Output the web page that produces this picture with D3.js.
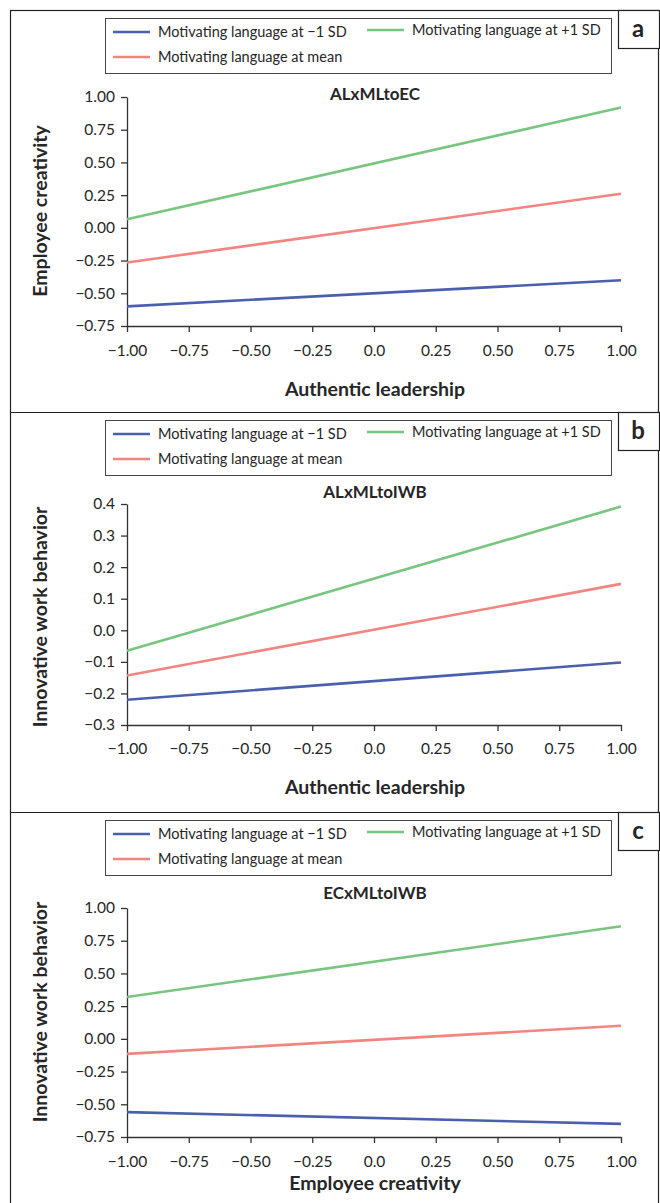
<!DOCTYPE html>
<html>
<head>
<meta charset="utf-8">
<script src="https://cdnjs.cloudflare.com/ajax/libs/d3/7.8.5/d3.min.js"></script>
<style>
  body { margin: 0; background: #fff; }
  text { font-family: Lato, "Open Sans", sans-serif; fill: #262626; }
</style>
</head>
<body>
<div id="chart"></div>
<script>
// series names (legend order)
var seriesNames = ["Motivating language at \u22121 SD", "Motivating language at +1 SD", "Motivating language at mean"];
var seriesColors = ["#4a60ae", "#78c580", "#f3847f"];

// x values (both ends of each simple slope line)
var xValues = [-1, 1];
var xTicks = [-1, -0.75, -0.5, -0.25, 0, 0.25, 0.5, 0.75, 1];
var xTickLabels = ["\u22121.00", "\u22120.75", "\u22120.50", "\u22120.25", "0.0", "0.25", "0.50", "0.75", "1.00"];

// panel a: ALxMLtoEC
var lowA  = [-0.60, -0.40];
var highA = [0.065, 0.92];
var meanA = [-0.265, 0.26];
var yTicksA = [-0.75, -0.5, -0.25, 0, 0.25, 0.5, 0.75, 1];
var yLabelsA = ["\u22120.75", "\u22120.50", "\u22120.25", "0.00", "0.25", "0.50", "0.75", "1.00"];

// panel b: ALxMLtoIWB
var lowB  = [-0.22, -0.102];
var highB = [-0.065, 0.392];
var meanB = [-0.143, 0.147];
var yTicksB = [-0.3, -0.2, -0.1, 0, 0.1, 0.2, 0.3, 0.4];
var yLabelsB = ["\u22120.3", "\u22120.2", "\u22120.1", "0.0", "0.1", "0.2", "0.3", "0.4"];

// panel c: ECxMLtoIWB
var lowC  = [-0.56, -0.65];
var highC = [0.32, 0.86];
var meanC = [-0.115, 0.10];
var yTicksC = yTicksA;
var yLabelsC = yLabelsA;

var panels = [
  { letter: "a", title: "ALxMLtoEC", xTitle: "Authentic leadership", yTitle: "Employee creativity",
    series: [lowA, highA, meanA], yTicks: yTicksA, yLabels: yLabelsA,
    top: 10, yRange: [326, 97], xLabY: 351, xTitleY: 389, titleY: 94, yTitleY: 211 },
  { letter: "b", title: "ALxMLtoIWB", xTitle: "Authentic leadership", yTitle: "Innovative work behavior",
    series: [lowB, highB, meanB], yTicks: yTicksB, yLabels: yLabelsB,
    top: 412, yRange: [725, 504], xLabY: 749, xTitleY: 787, titleY: 492, yTitleY: 617 },
  { letter: "c", title: "ECxMLtoIWB", xTitle: "Employee creativity", yTitle: "Innovative work behavior",
    series: [lowC, highC, meanC], yTicks: yTicksC, yLabels: yLabelsC,
    top: 812, yRange: [1137, 908], xLabY: 1162, xTitleY: 1183, titleY: 893, yTitleY: 1012 }
];

var width = 660, height = 1203;
var svg = d3.select("#chart").append("svg")
    .attr("width", width)
    .attr("height", height);

// outer frame
svg.append("rect")
    .attr("x", 10.5).attr("y", 10.5)
    .attr("width", 648).attr("height", height + 10)
    .attr("fill", "none").attr("stroke", "#222").attr("stroke-width", 1.2);

var x = d3.scaleLinear().domain([-1, 1]).range([127, 621]);

panels.forEach(function(p, pi) {
  var g = svg.append("g");

  // divider between panels
  if (pi > 0) {
    g.append("line")
      .attr("x1", 10).attr("x2", 659)
      .attr("y1", p.top + 0.5).attr("y2", p.top + 0.5)
      .attr("stroke", "#222").attr("stroke-width", 1.2);
  }

  // letter box
  g.append("rect")
      .attr("x", 618.5).attr("y", p.top + 0.5)
      .attr("width", 41).attr("height", 38)
      .attr("fill", "#fff").attr("stroke", "#222").attr("stroke-width", 1.2);
  g.append("text")
      .attr("x", 638).attr("y", p.top + 19)
      .attr("dy", "0.35em")
      .attr("text-anchor", "middle")
      .style("font-size", "24px").style("font-weight", "bold")
      .text(p.letter);

  // legend
  var lg = g.append("g").attr("transform", "translate(0," + p.top + ")");
  lg.append("rect")
      .attr("x", 105.5).attr("y", 8.5)
      .attr("width", 506).attr("height", 55)
      .attr("fill", "#fff").attr("stroke", "#444").attr("stroke-width", 1);
  var legendPos = [
    { x: 113, y: 22 },
    { x: 367, y: 20 },
    { x: 113, y: 47 }
  ];
  seriesNames.forEach(function(name, i) {
    var lp = legendPos[i];
    lg.append("line")
        .attr("x1", lp.x).attr("x2", lp.x + 37)
        .attr("y1", lp.y).attr("y2", lp.y)
        .attr("stroke", seriesColors[i]).attr("stroke-width", 2.5);
    lg.append("text")
        .attr("x", lp.x + 45).attr("y", lp.y)
        .attr("dy", "0.35em")
        .style("font-size", "14.5px")
        .text(name);
  });

  // title
  g.append("text")
      .attr("x", 375).attr("y", p.titleY)
      .attr("dy", "0.35em")
      .attr("text-anchor", "middle")
      .style("font-size", "17px").style("font-weight", "bold")
      .text(p.title);

  var y = d3.scaleLinear()
      .domain(d3.extent(p.yTicks))
      .range(p.yRange);

  // axes
  var yAxis = d3.axisLeft(y)
      .tickValues(p.yTicks)
      .tickSize(6)
      .tickSizeOuter(0)
      .tickPadding(6)
      .tickFormat(function(d, i) { return p.yLabels[i]; });
  var xAxis = d3.axisBottom(x)
      .tickValues(xTicks)
      .tickSize(6)
      .tickSizeOuter(0)
      .tickPadding(9)
      .tickFormat(function(d, i) { return xTickLabels[i]; });

  var yG = g.append("g")
      .attr("transform", "translate(" + x.range()[0] + ",0)")
      .call(yAxis);
  var xG = g.append("g")
      .attr("transform", "translate(0," + p.yRange[0] + ")")
      .call(xAxis);

  [yG, xG].forEach(function(ax) {
    ax.select(".domain").attr("stroke", "#333").attr("stroke-width", 1.3);
    ax.selectAll(".tick line").attr("stroke", "#333").attr("stroke-width", 1.3);
    ax.selectAll(".tick text")
        .style("font-family", "Lato, 'Open Sans', sans-serif")
        .style("font-size", "15.5px")
        .attr("fill", "#262626");
  });
  xG.selectAll(".tick text").attr("y", null).attr("dy", null)
      .attr("y", p.xLabY - p.yRange[0]).attr("dy", "0.35em");

  // lines
  var line = d3.line()
      .x(function(d, i) { return x(xValues[i]); })
      .y(function(d) { return y(d); });

  p.series.forEach(function(vals, i) {
    g.append("path")
        .datum(vals)
        .attr("d", line)
        .attr("fill", "none")
        .attr("stroke", seriesColors[i])
        .attr("stroke-width", 2.6);
  });

  // axis titles
  g.append("text")
      .attr("x", 375).attr("y", p.xTitleY)
      .attr("dy", "0.35em")
      .attr("text-anchor", "middle")
      .style("font-size", "19.5px").style("font-weight", "bold")
      .text(p.xTitle);
  g.append("text")
      .attr("transform", "translate(40," + p.yTitleY + ") rotate(-90)")
      .attr("dy", "0.35em")
      .attr("text-anchor", "middle")
      .style("font-size", "19.5px").style("font-weight", "bold")
      .text(p.yTitle);
});
</script>
</body>
</html>
